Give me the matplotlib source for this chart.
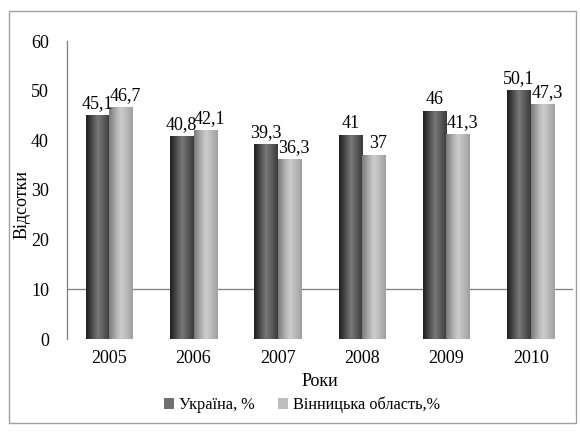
import numpy as np
from matplotlib import pyplot as plt
from matplotlib.colors import LinearSegmentedColormap
from matplotlib.patches import Rectangle

plt.rcParams['font.family'] = ['Liberation Serif', 'DejaVu Serif']

years = ['2005', '2006', '2007', '2008', '2009', '2010']
ukraine = [45.1, 40.8, 39.3, 41, 46, 50.1]
vinnytsia = [46.7, 42.1, 36.3, 37, 41.3, 47.3]
ukraine_labels = ['45,1', '40,8', '39,3', '41', '46', '50,1']
vinnytsia_labels = ['46,7', '42,1', '36,3', '37', '41,3', '47,3']

fig = plt.figure(figsize=(5.8, 4.32), dpi=100)
ax = fig.add_axes([67/580, 1 - 339/432, (573-67)/580, (339-41)/432])

# figure border
fig.patches.append(Rectangle((9/580, 1 - 423/432), 567/580, 412/432,
                             transform=fig.transFigure, fill=False,
                             edgecolor='#a0a0a0', linewidth=1.0))

x = np.arange(len(years))
w = 0.28

dark_cmap = LinearSegmentedColormap.from_list('dk', ['#1e1e1e', '#4a4a4a', '#787878', '#5a5a5a', '#3a3a3a'])
light_cmap = LinearSegmentedColormap.from_list('lt', ['#7a7a7a', '#a8a8a8', '#cdcdcd', '#b8b8b8', '#a0a0a0'])

grad = np.linspace(0, 1, 64).reshape(1, -1)

bars1 = ax.bar(x - w/2, ukraine, w, color='#707070', zorder=2, label='Україна, %')
bars2 = ax.bar(x + w/2, vinnytsia, w, color='#bdbdbd', zorder=2, label='Вінницька область,%')

# gradient fill clipped to each bar
for bars, cmap in ((bars1, dark_cmap), (bars2, light_cmap)):
    for b in bars:
        x0, y0 = b.get_x(), b.get_y()
        im = ax.imshow(grad, cmap=cmap, aspect='auto', zorder=3,
                       extent=[x0, x0 + b.get_width(), y0, y0 + b.get_height()])
        im.set_clip_path(b)

fs = 13
for b, lab in zip(bars1, ukraine_labels):
    ax.text(b.get_x() + b.get_width()/2, b.get_height() + 0.6, lab,
            ha='center', va='bottom', fontsize=fs, zorder=4)
for b, lab in zip(bars2, vinnytsia_labels):
    ax.text(b.get_x() + b.get_width()/2 + 0.05, b.get_height() + 0.6, lab,
            ha='center', va='bottom', fontsize=fs, zorder=4)

ax.axhline(10, color='#7f7f7f', linewidth=0.9, zorder=1)

ax.set_xlim(-0.5, 5.5)
ax.set_ylim(0, 60)
ax.set_yticks([0, 10, 20, 30, 40, 50, 60])
ax.set_xticks(x)
ax.set_xticklabels(years)
ax.tick_params(axis='both', labelsize=fs, length=0)
ax.tick_params(axis='y', pad=13)
ax.tick_params(axis='x', pad=8)
for s in ('top', 'right', 'bottom'):
    ax.spines[s].set_visible(False)
ax.spines['left'].set_color('#7f7f7f')
ax.spines['left'].set_linewidth(0.9)

ax.set_xlabel('Роки', fontsize=fs, labelpad=4)
ax.set_ylabel('Відсотки', fontsize=fs)
ax.yaxis.set_label_coords(-0.072, 0.45)

leg = fig.legend(handles=[bars1, bars2], loc='center', bbox_to_anchor=(302/580, 1 - 405/432),
                 ncol=2, frameon=False, fontsize=11.7, handlelength=0.65, handleheight=0.65,
                 handletextpad=0.3, columnspacing=1.4)

plt.savefig('out.png', dpi=100)
